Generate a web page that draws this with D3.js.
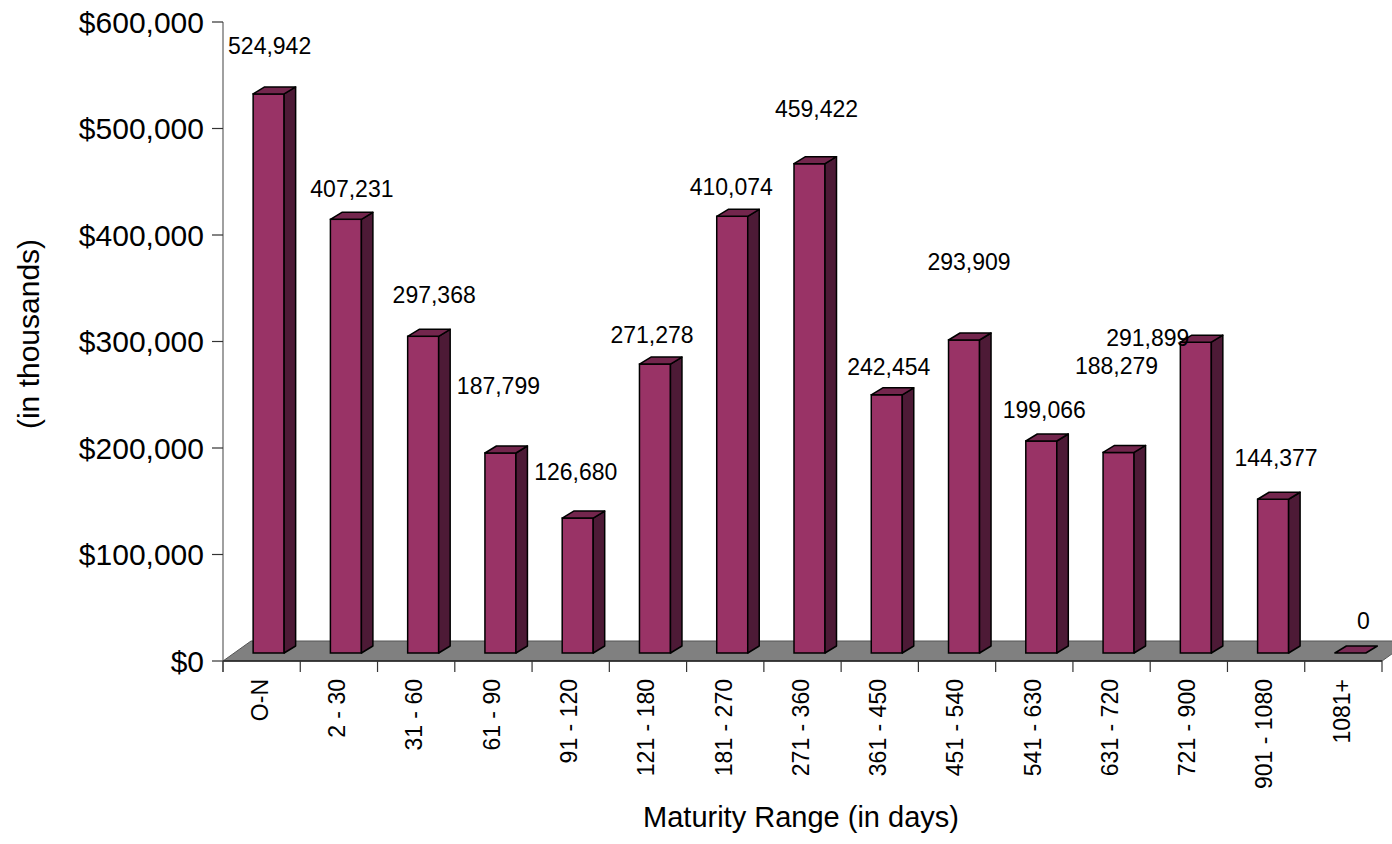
<!DOCTYPE html>
<html>
<head>
<meta charset="utf-8">
<script src="https://cdn.jsdelivr.net/npm/d3@7"></script>
<style>
  body { margin: 0; background: #fff; }
  text { font-family: "Liberation Sans", Arial, sans-serif; fill: #000; }
</style>
</head>
<body>
<script>
// maturity buckets and amounts (in thousands)
const categories = ["O-N", "2 - 30", "31 - 60", "61 - 90", "91 - 120", "121 - 180", "181 - 270",
  "271 - 360", "361 - 450", "451 - 540", "541 - 630", "631 - 720", "721 - 900", "901 - 1080", "1081+"];
const values = [524942, 407231, 297368, 187799, 126680, 271278, 410074,
  459422, 242454, 293909, 199066, 188279, 291899, 144377, 0];
const yTicks = [0, 100000, 200000, 300000, 400000, 500000, 600000];
// where excel dropped each value label, relative to the bar top (px)
const labelShift = [[1, -48], [6, -31], [11, -42], [-2, -67], [-2, -46], [-3, -29], [-1, -30],
  [7, -55], [2, -28], [5, -78], [3, -31], [-2, -87], [-48, -4], [3, -42], [13, -32]];

const W = 1392, H = 844;
const svg = d3.select("body").append("svg").attr("width", W).attr("height", H);

const x = d3.scaleBand().domain(categories).range([223, 1382]).padding(0);
const y = d3.scaleLinear().domain([0, 600000]).range([661, 22]);

// 3d look
const floorD = [28, -20];   // depth of the floor
const front = [7, -8];      // bar front face offset
const side = [11.5, -7];    // bar thickness in depth
const barW = 31;

// floor
svg.append("polygon")
  .attr("points", [[x.range()[0], y(0)], [x.range()[1], y(0)],
    [x.range()[1] + floorD[0], y(0) + floorD[1]], [x.range()[0] + floorD[0], y(0) + floorD[1]]].join(" "))
  .attr("fill", "#808080")
  .attr("stroke", "#555")
  .attr("stroke-width", 1);

// y axis
svg.append("line")
  .attr("x1", 223).attr("x2", 223).attr("y1", y(600000)).attr("y2", 672)
  .attr("stroke", "#808080").attr("stroke-width", 1.5);
svg.selectAll(".ytick").data(yTicks).join("line")
  .attr("x1", 212).attr("x2", 223)
  .attr("y1", d => y(d)).attr("y2", d => y(d))
  .attr("stroke", "#333").attr("stroke-width", 1.2);
svg.selectAll(".ylab").data(yTicks).join("text")
  .attr("x", 204).attr("y", d => y(d)).attr("dy", "0.36em")
  .attr("text-anchor", "end")
  .style("font-size", "30px")
  .text(d => "$" + d3.format(",")(d));

// x axis
svg.append("line")
  .attr("x1", x.range()[0]).attr("x2", x.range()[1]).attr("y1", y(0)).attr("y2", y(0))
  .attr("stroke", "#222").attr("stroke-width", 1.5);
const bounds = categories.map(c => x(c)).concat([x.range()[1]]);
svg.selectAll(".xtick").data(bounds).join("line")
  .attr("x1", d => d).attr("x2", d => d).attr("y1", y(0)).attr("y2", 672)
  .attr("stroke", "#333").attr("stroke-width", 1.2);
svg.selectAll(".xlab").data(categories).join("text")
  .attr("transform", d => `translate(${x(d) + x.bandwidth() / 2 - 2},679) rotate(-90)`)
  .attr("dy", "0.36em")
  .attr("text-anchor", "end")
  .style("font-size", "23px")
  .text(d => d);

// bars
const bars = svg.selectAll(".bar").data(categories).join("g");
bars.each(function (c, i) {
  const g = d3.select(this);
  const xl = x(c) + x.bandwidth() / 2 + front[0] - barW / 2;
  const xr = xl + barW;
  const bot = y(0) + front[1];
  const top = y(values[i]) + front[1];
  if (values[i] > 0) {
    g.append("rect")
      .attr("x", xl).attr("y", top).attr("width", barW).attr("height", bot - top)
      .attr("fill", "#993366").attr("stroke", "#000").attr("stroke-width", 1.5);
    g.append("polygon")
      .attr("points", [[xr, top], [xr + side[0], top + side[1]], [xr + side[0], bot + side[1]], [xr, bot]].join(" "))
      .attr("fill", "#4d1a36").attr("stroke", "#000").attr("stroke-width", 1.5)
      .attr("stroke-linejoin", "round");
  }
  g.append("polygon")
    .attr("points", [[xl, top], [xl + side[0], top + side[1]], [xr + side[0], top + side[1]], [xr, top]].join(" "))
    .attr("fill", values[i] > 0 ? "#73264d" : "#7a2a55").attr("stroke", "#000").attr("stroke-width", 1.5)
    .attr("stroke-linejoin", "round");
  g.append("text")
    .attr("x", xl + barW / 2 + labelShift[i][0])
    .attr("y", top + labelShift[i][1])
    .attr("dy", "0.36em")
    .attr("text-anchor", "middle")
    .style("font-size", "23px")
    .text(d3.format(",")(values[i]));
});

// axis titles
svg.append("text")
  .attr("x", 801).attr("y", 827)
  .attr("text-anchor", "middle")
  .style("font-size", "29px")
  .text("Maturity Range (in days)");
svg.append("text")
  .attr("transform", "translate(28,334) rotate(-90)")
  .attr("dy", "0.36em")
  .attr("text-anchor", "middle")
  .style("font-size", "30px")
  .text("(in thousands)");
</script>
</body>
</html>
